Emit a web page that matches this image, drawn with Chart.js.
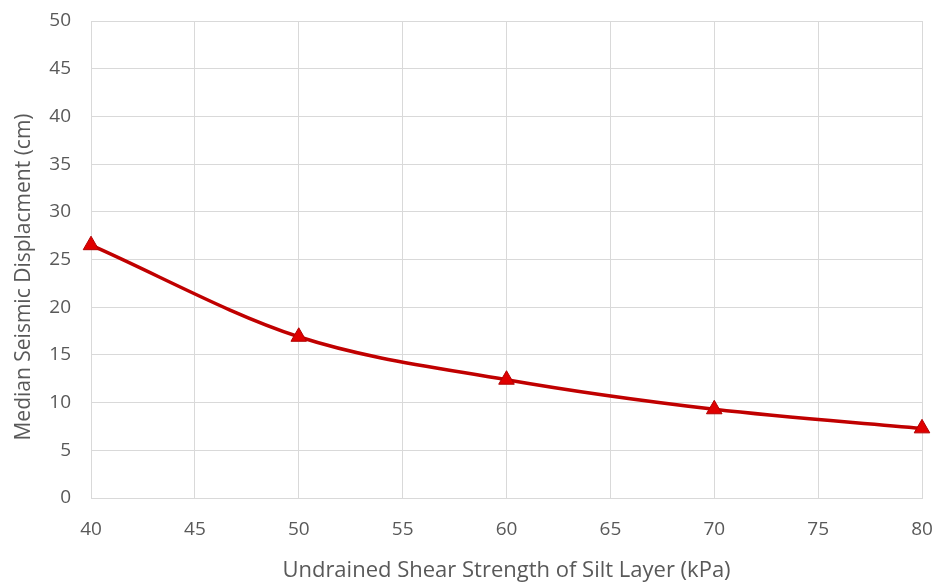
<!DOCTYPE html>
<html>
<head>
<meta charset="utf-8">
<script src="https://cdn.jsdelivr.net/npm/chart.js@4"></script>
<style>
  html, body { margin: 0; padding: 0; background: #fff; }
  #wrap { width: 939px; height: 584px; }
</style>
</head>
<body>
<div id="wrap"><canvas id="c" width="939" height="584"></canvas></div>
<script>
// Undrained shear strength of the silt layer (kPa)
const shearStrength = [40, 50, 60, 70, 80];
// Median seismic displacement (cm)
const displacement = [26.5, 16.9, 12.4, 9.3, 7.3];

const xTitle = 'Undrained Shear Strength of Silt Layer (kPa)';
const yTitle = 'Median Seismic Displacment (cm)';

const FONT = "'Open Sans', 'Liberation Sans', sans-serif";
const TEXT = '#595959';
const GRID = '#d9d9d9';

// Vertical axis title, drawn rotated and set slightly below the axis middle
const yTitlePlugin = {
  id: 'yTitle',
  afterDraw(chart) {
    const ctx = chart.ctx;
    ctx.save();
    ctx.translate(24, 277);
    ctx.rotate(-Math.PI / 2);
    ctx.font = "21px " + FONT;
    ctx.fillStyle = TEXT;
    ctx.textAlign = 'center';
    ctx.textBaseline = 'middle';
    ctx.fillText(yTitle, 0, 0);
    ctx.restore();
  }
};

new Chart(document.getElementById('c'), {
  type: 'line',
  data: {
    datasets: [{
      data: shearStrength.map((x, i) => ({ x: x, y: displacement[i] })),
      borderColor: '#c00000',
      borderWidth: 3.5,
      tension: 0.4,
      cubicInterpolationMode: 'monotone',
      pointStyle: 'triangle',
      pointRadius: 9,
      pointBackgroundColor: '#e00000',
      pointBorderColor: '#b00000',
      pointBorderWidth: 1,
      clip: false
    }]
  },
  plugins: [yTitlePlugin],
  options: {
    responsive: false,
    animation: false,
    layout: { padding: { top: 21, right: 17, left: 0, bottom: 0 } },
    plugins: { legend: { display: false }, tooltip: { enabled: false } },
    scales: {
      x: {
        type: 'linear',
        min: 40, max: 80,
        ticks: { stepSize: 5, color: TEXT, font: { family: FONT, size: 19 }, padding: 20 },
        grid: { color: GRID, lineWidth: 1, drawTicks: false },
        border: { color: GRID },
        title: { display: true, text: xTitle, color: TEXT, font: { family: FONT, size: 22 }, padding: { top: 10, bottom: 0 } },
        afterFit: s => { s.height = 86; s.paddingLeft = 0; s.paddingRight = 0; }
      },
      y: {
        min: 0, max: 50,
        ticks: { stepSize: 5, color: TEXT, font: { family: FONT, size: 19 }, padding: 20 },
        grid: { color: GRID, lineWidth: 1, drawTicks: false },
        border: { color: GRID },
        afterFit: s => { s.width = 91; s.paddingTop = 0; s.paddingBottom = 0; }
      }
    }
  }
});
</script>
</body>
</html>
